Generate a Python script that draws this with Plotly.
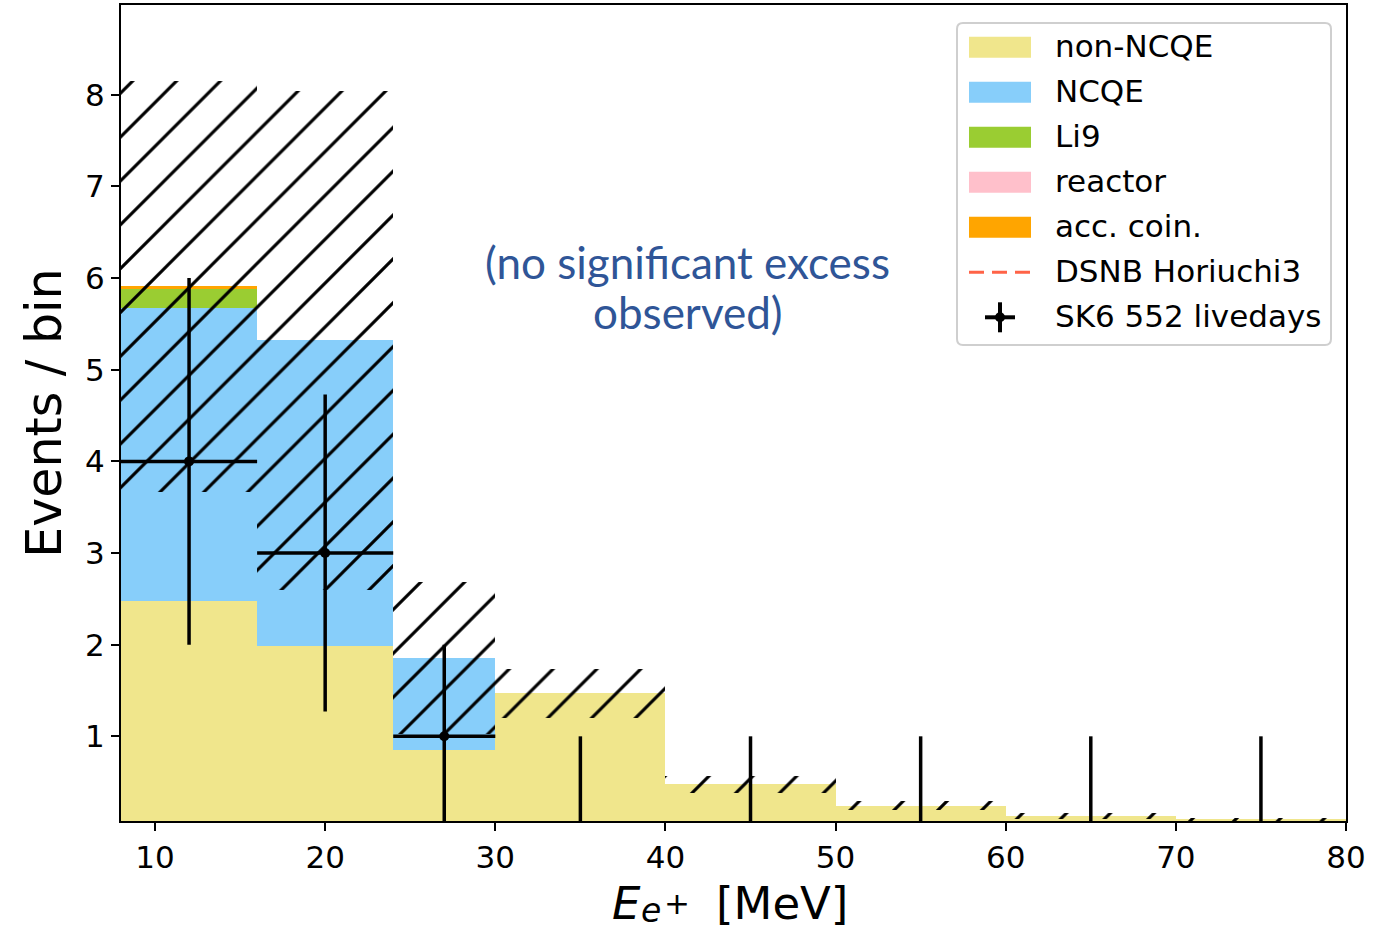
import numpy as np
import plotly.graph_objects as go

# Energy binning [MeV]
bin_edges = [8, 16, 24, 30, 40, 50, 60, 70, 80]

# Expected background per bin, by component
non_ncqe = [2.48, 1.99, 0.85, 1.47, 0.476, 0.245, 0.13, 0.095]
ncqe = [3.19, 3.33, 1.00, 0.0, 0.0, 0.0, 0.0, 0.0]
li9 = [0.215, 0.0, 0.0, 0.0, 0.0, 0.0, 0.0, 0.0]
reactor = [0.005, 0.0, 0.0, 0.0, 0.0, 0.0, 0.0, 0.0]
acc_coin = [0.02, 0.0, 0.0, 0.0, 0.0, 0.0, 0.0, 0.0]

# Total background uncertainty (hatched band, +/-)
bkg_unc = [2.24, 2.72, 0.83, 0.27, 0.09, 0.047, 0.034, 0.015]

# Observed events (SK6, 552 livedays)
data_counts = [4, 3, 1, 0, 0, 0, 0, 0]
data_err_up = [2.0, 1.73, 1.0, 1.0, 1.0, 1.0, 1.0, 1.0]
data_err_dn = [2.0, 1.73, 1.0, 0.0, 0.0, 0.0, 0.0, 0.0]

components = [
    ("non-NCQE", non_ncqe, "#F0E68C"),
    ("NCQE", ncqe, "#87CEFA"),
    ("Li9", li9, "#9ACD32"),
    ("reactor", reactor, "#FFC0CB"),
    ("acc. coin.", acc_coin, "#FFA500"),
]

note_lines = ["(no significant excess", "observed)"]
y_title = "Events / bin"

edges = np.array(bin_edges, dtype=float)
centers = 0.5 * (edges[:-1] + edges[1:])
widths = np.diff(edges)

fig = go.Figure()

# stacked background histogram
stack = np.zeros(len(centers))
for name, vals, color in components:
    vals = np.array(vals, dtype=float)
    fig.add_bar(
        x=centers, y=vals, base=stack.copy(), width=widths, name=name,
        marker=dict(color=color, line=dict(width=0)), showlegend=False,
    )
    stack += vals

# hatched uncertainty band around the total
unc = np.array(bkg_unc, dtype=float)
fig.add_bar(
    x=centers, y=2 * unc, base=stack - unc, width=widths, name="syst.",
    marker=dict(
        color="rgba(0,0,0,0)", line=dict(width=0),
        pattern=dict(shape="/", fgcolor="black", fgopacity=1, bgcolor="rgba(0,0,0,0)",
                     size=31, solidity=0.1, fillmode="overlay"),
    ),
    showlegend=False,
)

# observed data with Poisson errors
fig.add_scatter(
    x=centers, y=data_counts, mode="markers", name="SK6 552 livedays",
    marker=dict(color="black", size=10),
    error_y=dict(type="data", symmetric=False, array=data_err_up,
                 arrayminus=data_err_dn, color="black", thickness=3.5, width=0),
    error_x=dict(type="data", array=widths / 2, color="black", thickness=3.5, width=0),
    cliponaxis=True, showlegend=False,
)

# plot-area geometry in pixels (for the hand-drawn legend and x title)
L, R, T, B = 121, 37, 5, 109
W, H = 1383, 930
PW, PH = W - L - R, H - T - B


def px(x):
    return (x - L) / PW


def py(y):
    return (H - B - y) / PH


shapes = []
annotations = []

# legend frame with rounded corners
x0, x1, y0, y1, r = 957, 1331, 23, 345, 6
path = (
    f"M {px(x0 + r)},{py(y0)} L {px(x1 - r)},{py(y0)} Q {px(x1)},{py(y0)} {px(x1)},{py(y0 + r)} "
    f"L {px(x1)},{py(y1 - r)} Q {px(x1)},{py(y1)} {px(x1 - r)},{py(y1)} "
    f"L {px(x0 + r)},{py(y1)} Q {px(x0)},{py(y1)} {px(x0)},{py(y1 - r)} "
    f"L {px(x0)},{py(y0 + r)} Q {px(x0)},{py(y0)} {px(x0 + r)},{py(y0)} Z"
)
shapes.append(dict(type="path", xref="paper", yref="paper", path=path,
                   line=dict(color="#cfcfcf", width=2), fillcolor="rgba(255,255,255,0.85)"))

row0, drow = 47.3, 45
patch_x0, patch_x1, text_x = 969, 1031, 1053
legend_font = dict(family="DejaVu Sans", size=31, color="black")

for i, (name, _, color) in enumerate(components):
    yc = row0 + i * drow
    shapes.append(dict(type="rect", xref="paper", yref="paper",
                       x0=px(patch_x0), x1=px(patch_x1), y0=py(yc + 10.5), y1=py(yc - 10.5),
                       line=dict(width=0), fillcolor=color))
    annotations.append(dict(text=name, xref="paper", yref="paper", x=px(text_x), y=py(yc - 1.5),
                            xanchor="left", yanchor="middle", showarrow=False, font=legend_font))

yc = row0 + 5 * drow
shapes.append(dict(type="line", xref="paper", yref="paper",
                   x0=px(patch_x0), x1=px(patch_x1), y0=py(yc), y1=py(yc),
                   line=dict(color="#FF6347", width=3, dash="15px,8px")))
annotations.append(dict(text="DSNB Horiuchi3", xref="paper", yref="paper", x=px(text_x), y=py(yc - 1.5),
                        xanchor="left", yanchor="middle", showarrow=False, font=legend_font))

yc = row0 + 6 * drow
cx = 1000
shapes.append(dict(type="line", xref="paper", yref="paper",
                   x0=px(cx - 15), x1=px(cx + 15), y0=py(yc), y1=py(yc),
                   line=dict(color="black", width=4)))
shapes.append(dict(type="line", xref="paper", yref="paper",
                   x0=px(cx), x1=px(cx), y0=py(yc - 15), y1=py(yc + 15),
                   line=dict(color="black", width=4)))
shapes.append(dict(type="circle", xref="paper", yref="paper",
                   x0=px(cx - 5), x1=px(cx + 5), y0=py(yc + 5), y1=py(yc - 5),
                   line=dict(width=0), fillcolor="black"))
annotations.append(dict(text="SK6 552 livedays", xref="paper", yref="paper", x=px(text_x), y=py(yc - 1.5),
                        xanchor="left", yanchor="middle", showarrow=False, font=legend_font))

# in-plot note, two centred lines
for k, line in enumerate(note_lines):
    annotations.append(dict(text=line, xref="x", yref="y",
                            x=41.3, y=6.18 - 0.545 * k, xanchor="center", yanchor="middle",
                            showarrow=False, align="center",
                            font=dict(family="Lato", size=44, color="#2F5597")))

# x-axis title E_{e+} [MeV], typeset piece by piece (text, x centre, y centre, font size)
x_title_parts = [
    ("<i>E</i>", 626, 903.4, 45),
    ("<i>e</i>", 651, 910.1, 33),
    ("+", 676.5, 902.5, 31),
    ("[MeV]", 782, 903.4, 45),
]
for text, xc, ycen, fs in x_title_parts:
    annotations.append(dict(text=text, xref="paper", yref="paper", x=px(xc), y=py(ycen),
                            xanchor="center", yanchor="middle", showarrow=False,
                            font=dict(family="DejaVu Sans", size=fs, color="black")))

axis_common = dict(
    showline=True, linecolor="black", linewidth=2, mirror=True,
    ticks="outside", ticklen=8, tickwidth=2, tickcolor="black",
    showgrid=False, zeroline=False,
    tickfont=dict(family="DejaVu Sans", size=31, color="black"),
)

fig.update_layout(
    width=W, height=H,
    margin=dict(l=L, r=R, t=T, b=B),
    plot_bgcolor="white", paper_bgcolor="white",
    barmode="overlay", bargap=0, showlegend=False,
    font=dict(family="DejaVu Sans", color="black"),
    xaxis=dict(range=[8, 80], tickvals=[10, 20, 30, 40, 50, 60, 70, 80],
               automargin=False, **axis_common),
    yaxis=dict(range=[0.076, 8.98], tickvals=[1, 2, 3, 4, 5, 6, 7, 8],
               automargin=False,
               title=dict(text=y_title,
                          font=dict(family="DejaVu Sans", size=49, color="black"), standoff=8),
               **axis_common),
    shapes=shapes,
    annotations=annotations,
)

fig.write_html("out.html")
